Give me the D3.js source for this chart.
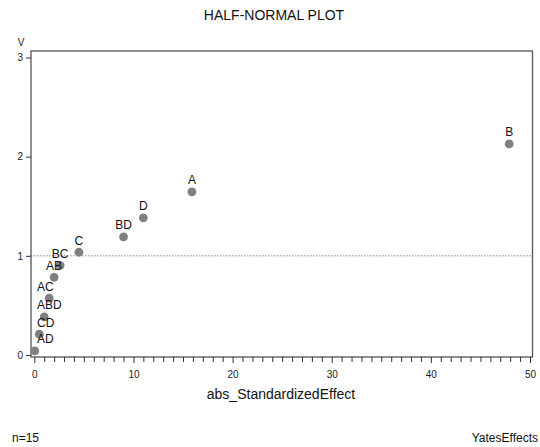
<!DOCTYPE html>
<html><head><meta charset="utf-8">
<script src="https://cdn.jsdelivr.net/npm/d3@7"></script>
<style>body{margin:0;background:#fff}svg{display:block;font-family:"Liberation Sans",Arial,sans-serif}</style>
</head><body>
<script>
const labels = ["AD","CD","ABD","AC","AB","BC","C","BD","D","A","B"];
const effects = [0.05, 0.5, 1.0, 1.5, 2.0, 2.6, 4.5, 9.0, 11.0, 15.9, 47.9];
const halfNormal = [0.042, 0.210, 0.385, 0.573, 0.783, 0.903, 1.036, 1.192, 1.383, 1.645, 2.128];
const xTicks = [0,10,20,30,40,50];
const yTicks = [0,1,2,3];
const refLine = 1;

const W = 540, H = 447;
const svg = d3.select("body").append("svg").attr("width", W).attr("height", H);
const x = d3.scaleLinear().domain([0,50]).range([34.3,530]);
const y = d3.scaleLinear().domain([0,3]).range([355,57.5]);
const L = 31, R = 532.5, T = 51, B = 357;

svg.append("text").attr("x",274).attr("y",19.5).attr("text-anchor","middle")
  .attr("font-size",14).attr("fill","#111").text("HALF-NORMAL PLOT");

svg.append("line").attr("x1",L).attr("x2",R).attr("y1",y(refLine)).attr("y2",y(refLine))
  .attr("stroke","#666").attr("stroke-width",0.8).attr("stroke-dasharray","1.5,1.5");

svg.append("rect").attr("x",L).attr("y",T).attr("width",R-L).attr("height",B-T)
  .attr("fill","none").attr("stroke","#555").attr("stroke-width",1.3);

const xAxis = d3.axisBottom(x).tickValues(xTicks).tickSize(6).tickPadding(8).tickFormat(d3.format("d"));
const gx = svg.append("g").attr("transform",`translate(0,${B})`).call(xAxis);
gx.select(".domain").remove();
gx.selectAll(".tick line").attr("stroke","#333");
gx.selectAll(".tick text").attr("font-size",10).attr("fill","#222").attr("font-family","Liberation Sans, Arial, sans-serif");
const gxm = svg.append("g").attr("transform",`translate(0,${B})`)
  .call(d3.axisBottom(x).tickValues(d3.range(0,51).filter(v=>v%10!==0)).tickSize(5).tickFormat(""));
gxm.select(".domain").remove();
gxm.selectAll(".tick line").attr("stroke","#333");

const yAxis = d3.axisLeft(y).tickValues(yTicks).tickSize(5).tickPadding(3).tickFormat(d3.format("d"));
const gy = svg.append("g").attr("transform",`translate(${L},0)`).call(yAxis);
gy.select(".domain").remove();
gy.selectAll(".tick line").attr("stroke","#333");
gy.selectAll(".tick text").attr("font-size",10).attr("fill","#222").attr("font-family","Liberation Sans, Arial, sans-serif");

svg.append("text").attr("x",21).attr("y",46).attr("text-anchor","middle").attr("font-size",10).attr("fill","#222").text("V");

const data = labels.map((l,i)=>({l, e:effects[i], q:halfNormal[i]}));
svg.append("g").selectAll("circle").data(data).join("circle")
  .attr("cx",d=>x(d.e)).attr("cy",d=>y(d.q)).attr("r",4.4).attr("fill","#808080");
// labels: centred above point; those crowded against the left frame start at a fixed inset
const inset = L + 6;
svg.append("g").selectAll("text").data(data).join("text")
  .attr("x",d=> x(d.e) < 50 ? inset : x(d.e))
  .attr("text-anchor",d=> x(d.e) < 50 ? "start" : "middle")
  .attr("y",d=>y(d.q)-7.5)
  .attr("font-size",12).attr("fill","#111").text(d=>d.l);

svg.append("text").attr("x",281).attr("y",399).attr("text-anchor","middle")
  .attr("font-size",14).attr("fill","#111").text("abs_StandardizedEffect");
svg.append("text").attr("x",12).attr("y",442).attr("font-size",12).attr("fill","#111").text("n=15");
svg.append("text").attr("x",538).attr("y",442).attr("text-anchor","end").attr("font-size",12).attr("fill","#111").text("YatesEffects");
</script>
</body></html>
